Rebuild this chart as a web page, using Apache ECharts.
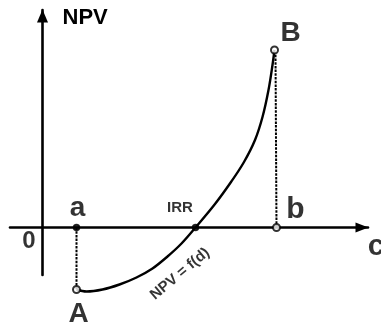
<!DOCTYPE html>
<html>
<head>
<meta charset="utf-8">
<script src="https://cdn.jsdelivr.net/npm/echarts@6/dist/echarts.min.js"></script>
<style>
	html, body { margin: 0; padding: 0; background: #fff; }
	#chart { width: 381px; height: 325px; }
</style>
</head>
<body>
<div id="chart"></div>
<script>
// NPV as a function of the discount rate d (arbitrary units)
var curveD   = [3.4, 4.4, 6.0, 7.7, 9.4, 11.0, 12.5, 13.9, 15.3, 17.25, 18.85, 20.15, 21.25, 22.0, 22.6, 23.0, 23.2];
var curveNPV = [-6.2, -6.4, -6.2, -5.7, -5.0, -4.1, -2.9, -1.6, 0, 2.35, 4.55, 6.55, 8.75, 11.05, 13.75, 16.25, 17.75];

// named points
var pointNames = ['0', 'a', 'A', 'IRR', 'b', 'B', 'c'];
var pointD     = [0, 3.4, 3.4, 15.3, 23.4, 23.2, 32.55];
var pointNPV   = [0, 0, -6.2, 0, 0, 17.75, 0];

// dotted guides a-A and b-B
var guideA = [[3.4, 0], [3.4, -6.2]];
var guideB = [[23.4, 0], [23.3, 17.4]];

var curveLabel = 'NPV = f(d)';
var curveLabelAt = 6;

var font = 'Liberation Sans';
var black = '#000000';

var graph;

function labelStyle(size, dx, dy) {
	return {
		show : true,
		position : 'inside',
		offset : [ dx, dy ],
		color : black,
		fontFamily : font,
		fontWeight : 'bold',
		fontSize : size
	};
}

var hidden = { color : 'transparent', borderWidth : 0 };

// symbol and label look for each named point
var pointLook = {
	'0' : { symbol : 'circle', size : 1, hide : true, label : labelStyle(24, -13.5, 14) },
	'a' : { symbol : 'circle', size : 6, label : labelStyle(28, 1, -19) },
	'A' : { symbol : 'emptyCircle', size : 7, label : labelStyle(28, 2, 25) },
	'IRR' : { symbol : 'circle', size : 6, label : labelStyle(15, -15.5, -20) },
	'b' : { symbol : 'emptyCircle', size : 7, label : labelStyle(30, 19, -18) },
	'B' : { symbol : 'emptyCircle', size : 7, label : labelStyle(28, 16, -17) },
	'c' : { symbol : 'circle', size : 1, hide : true, label : labelStyle(30, 8, 19) }
};

function buildOption() {
	var curve = [];
	for (var i = 0; i < curveD.length; i++) {
		curve.push([ curveD[i], curveNPV[i] ]);
	}
	var points = [];
	for (var j = 0; j < pointNames.length; j++) {
		var look = pointLook[pointNames[j]];
		var lbl = look.label;
		lbl.formatter = pointNames[j];
		var item = {
			name : pointNames[j],
			value : [ pointD[j], pointNPV[j] ],
			symbol : look.symbol,
			symbolSize : look.size,
			label : lbl
		};
		if (look.hide) {
			item.itemStyle = hidden;
		}
		points.push(item);
	}
	// offset is taken in the rotated frame of the label
	var curveTextLabel = labelStyle(15, -1.7, 21.4);
	curveTextLabel.rotate = 40;
	curveTextLabel.formatter = curveLabel;

	var guideStyle = { color : black, width : 2, type : [ 2.5, 1.2 ] };

	return {
		backgroundColor : '#ffffff',
		animation : false,
		grid : {
			left : 10,
			right : 13,
			top : 10,
			bottom : 50,
			containLabel : false,
			outerBoundsMode : 'none'
		},
		xAxis : {
			type : 'value',
			min : -3.25,
			max : 32.55,
			axisLine : {
				onZero : true,
				symbol : [ 'none', 'triangle' ],
				symbolSize : [ 10, 13 ],
				symbolOffset : [ 0, -6 ],
				lineStyle : { color : black, width : 2.6 }
			},
			axisTick : { show : false },
			axisLabel : { show : false },
			splitLine : { show : false }
		},
		yAxis : {
			type : 'value',
			min : -4.75,
			max : 21.75,
			name : 'NPV',
			nameLocation : 'end',
			nameGap : 3,
			nameTextStyle : {
				color : black,
				fontFamily : font,
				fontWeight : 'bold',
				fontSize : 22,
				align : 'left',
				verticalAlign : 'top',
				padding : [ 0, 0, 0, 20 ]
			},
			axisLine : {
				onZero : true,
				symbol : [ 'none', 'triangle' ],
				symbolSize : [ 11, 13 ],
				symbolOffset : [ 0, -6 ],
				lineStyle : { color : black, width : 2.6 }
			},
			axisTick : { show : false },
			axisLabel : { show : false },
			splitLine : { show : false }
		},
		series : [ {
			name : 'guideA',
			type : 'line',
			data : guideA,
			symbol : 'none',
			clip : false,
			lineStyle : guideStyle,
			z : 2
		}, {
			name : 'guideB',
			type : 'line',
			data : guideB,
			symbol : 'none',
			clip : false,
			lineStyle : guideStyle,
			z : 2
		}, {
			name : 'npv',
			type : 'line',
			data : curve,
			smooth : 0.35,
			symbol : 'none',
			clip : false,
			lineStyle : { color : black, width : 2.4 },
			z : 3
		}, {
			name : 'curveLabel',
			type : 'scatter',
			data : [ {
				value : curve[curveLabelAt],
				symbol : 'circle',
				symbolSize : 1,
				itemStyle : hidden,
				label : curveTextLabel
			} ],
			clip : false,
			z : 4
		}, {
			name : 'points',
			type : 'scatter',
			data : points,
			clip : false,
			itemStyle : { color : black, borderColor : black, borderWidth : 1.5 },
			z : 5
		} ]
	};
}

function onload() {
	graph = echarts.init(document.getElementById('chart'), null, { renderer : 'canvas' });
	graph.setOption(buildOption());
}
onload();
</script>
</body>
</html>
